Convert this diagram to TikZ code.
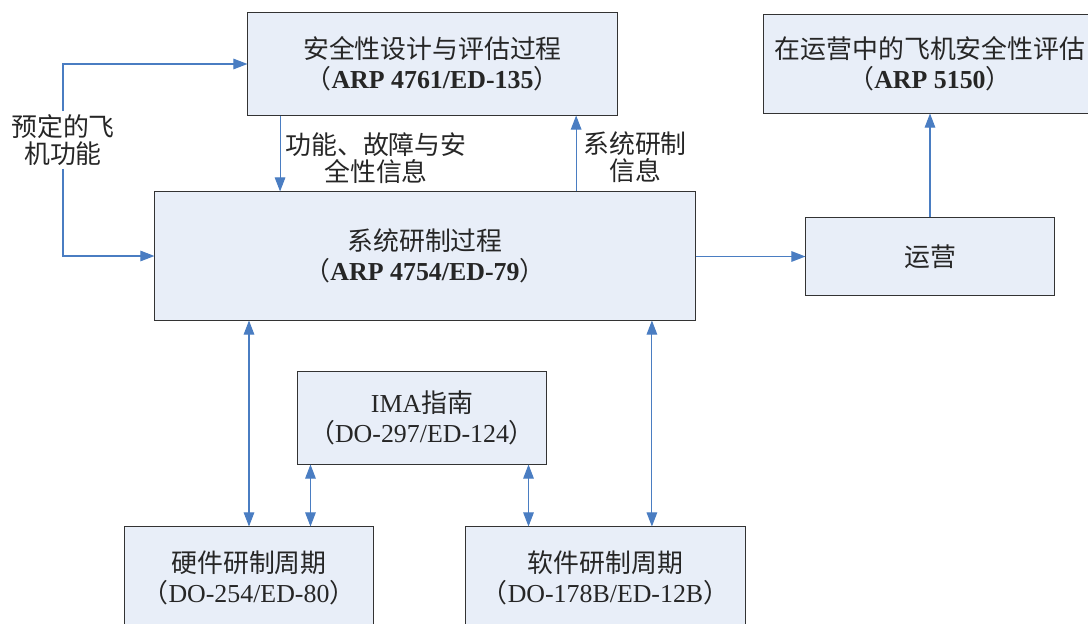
\documentclass[tikz,border=0pt]{standalone}
\usepackage{fontspec}
\setmainfont{Noto Sans CJK SC}
\newfontfamily\latin{Liberation Serif}
\usetikzlibrary{arrows.meta}
\definecolor{boxfill}{HTML}{E8EEF8}
\definecolor{linkblue}{HTML}{4A7DC2}
\newcommand{\std}[1]{{\latin #1}}
\begin{document}
\begin{tikzpicture}[x=0.025cm,y=-0.025cm,
    font=\fontsize{18.4}{21.5}\selectfont,text=black!85,
    stdbox/.style={draw=black!80,line width=0.7pt,fill=boxfill,inner sep=0pt,align=center},
    note/.style={align=center,inner sep=2pt,font=\fontsize{18.4}{19.5}\selectfont},
    link/.style={draw=linkblue,line width=0.8pt,-{Triangle[length=10pt,width=7.5pt]}},
    both/.style={link,{Triangle[length=10pt,width=7.5pt]}-{Triangle[length=10pt,width=7.5pt]}}]
    \useasboundingbox (0,0) rectangle (1088,624);

    % Kaesten
    \node[stdbox,minimum width=9.225cm,minimum height=2.55cm] (safety) at (432.5,64)
        {安全性设计与评估过程\\（\std{\bfseries ARP 4761/ED-135}）};
    \node[stdbox,minimum width=8.3cm,minimum height=2.45cm] (inservice) at (930,64)
        {在运营中的飞机安全性评估\\（\std{\bfseries ARP 5150}）};
    \node[stdbox,minimum width=13.5cm,minimum height=3.2cm] (sysdev) at (425,256)
        {系统研制过程\\（\std{\bfseries ARP 4754/ED-79}）};
    \node[stdbox,minimum width=6.2cm,minimum height=1.925cm] (oper) at (930,256.5) {运营};
    \node[stdbox,minimum width=6.2cm,minimum height=2.3cm] (ima) at (422,418)
        {\std{IMA}指南\\（\std{DO-297/ED-124}）};
    \node[stdbox,minimum width=6.2cm,minimum height=2.55cm] (hw) at (249,578)
        {硬件研制周期\\（\std{DO-254/ED-80}）};
    \node[stdbox,minimum width=6.975cm,minimum height=2.55cm] (sw) at (605.5,578)
        {软件研制周期\\（\std{DO-178B/ED-12B}）};

    % Beschriftungen
    \node[note] (acfunc) at (63,140) {预定的飞\\机功能};
    \node[note] (fsinfo) at (376,158) {功能、故障与安\\全性信息};
    \node[note] (sysinfo) at (635,157) {系统研制\\信息};

    % Pfeile
    \draw[link] (acfunc.north) |- (safety.west);
    \draw[link] (acfunc.south) |- (sysdev.west);
    \draw[link] ([xshift=-3.81cm]safety.south) -- ([xshift=-3.81cm]safety.south |- sysdev.north);
    \draw[link] ([xshift=3.59cm]safety.south |- sysdev.north) -- ([xshift=3.59cm]safety.south);
    \draw[link] (sysdev.east |- oper.west) -- (oper.west);
    \draw[link] (oper.north) -- (inservice.south);

    \draw[both] (hw.north |- sysdev.south) -- (hw.north);
    \draw[both] ([xshift=0.325cm]ima.south west) -- ([xshift=0.325cm]ima.south west |- hw.north);
    \draw[both] ([xshift=-0.45cm]ima.south east) -- ([xshift=-0.45cm]ima.south east |- sw.north);
    \draw[both] ([xshift=1.16cm]sw.north |- sysdev.south) -- ([xshift=1.16cm]sw.north);
\end{tikzpicture}
\end{document}
